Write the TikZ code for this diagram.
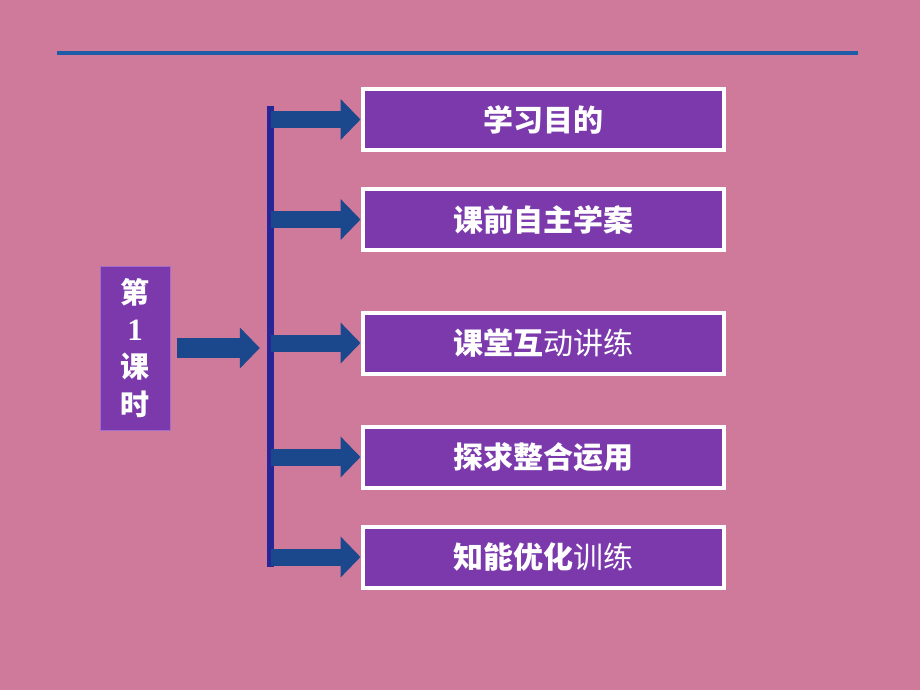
\documentclass[tikz,border=0pt]{standalone}
\usepackage{fontspec}
\newfontfamily\cjk{Noto Sans CJK SC}
\newfontfamily\numfont{Liberation Serif}
\usetikzlibrary{arrows.meta}
\definecolor{pagepink}{RGB}{208,122,155}
\definecolor{rulecol}{RGB}{30,92,168}
\definecolor{boxpurple}{RGB}{123,57,172}
\definecolor{boxedge}{RGB}{160,110,205}
\definecolor{arrowblue}{RGB}{27,72,140}
\definecolor{barblue}{RGB}{38,38,150}
\begin{document}
\begin{tikzpicture}[x=1pt,y=-1pt]

	\def \boxx{543}
	\tikzstyle{stepbox}=[rectangle,fill=boxpurple,draw=white,line width=4pt,minimum width=361pt,minimum height=61pt,inner sep=0pt,text=white,font=\cjk\fontsize{30}{30}\selectfont]
	\tikzstyle{lessonbox}=[rectangle,fill=boxpurple,draw=boxedge,line width=1pt,minimum width=70pt,minimum height=164pt,inner sep=0pt,text=white,align=center,font=\cjk\bfseries\fontsize{29}{37.5}\selectfont]
	\tikzstyle{blockarrow}=[draw=arrowblue,line width=17pt,-{Triangle[width=40pt,length=20pt]}]

	% page
	\useasboundingbox[fill=pagepink] (0,0) rectangle (920,690);
	\draw[rulecol,line width=3.5pt] (57,53) -- (858,53);

	% left
	\node[lessonbox] 	(lesson)	at (135,348)	{第\\[-1pt]{\numfont\bfseries\fontsize{31}{31}\selectfont 1}\\课\\时};
	\node[rectangle,fill=barblue,minimum width=7pt,minimum height=461pt,inner sep=0pt] 	(bar)	at (270.5,336.5)	{};

	% steps
	\node[stepbox] 	(goal)	at (\boxx,119.5)	{\bfseries 学习目的};
	\node[stepbox] 	(prep)	at (\boxx,219.5)	{\bfseries 课前自主学案};
	\node[stepbox] 	(class)	at (\boxx,343)	{{\bfseries 课堂互}动讲练};
	\node[stepbox] 	(probe)	at (\boxx,457)	{\bfseries 探求整合运用};
	\node[stepbox] 	(drill)	at (\boxx,557)	{{\bfseries 知能优化}训练};

	% arrows
	\draw[blockarrow,line width=20pt,shorten <=6pt,shorten >=7pt] (lesson.east) -- (bar.west |- lesson.east);
	\foreach \s in {goal,prep,class,probe,drill}
		\draw[blockarrow] (bar.center |- \s.west) -- (\s.west);
\end{tikzpicture}
\end{document}
